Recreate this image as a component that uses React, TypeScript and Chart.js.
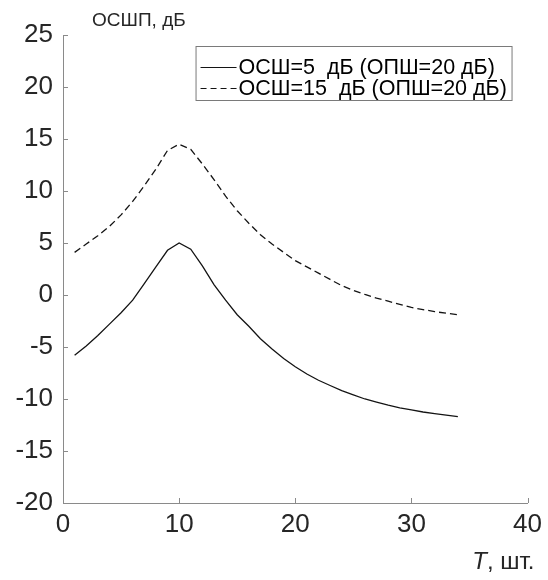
import React, { useEffect, useRef } from "react";
import { Chart, registerables } from "chart.js";

Chart.register(...registerables);

// ---- data ----
const T_VALUES = [1, 2, 3, 4, 5, 6, 7, 8, 9, 10, 11, 12, 13, 14, 15, 16, 17, 18, 19, 20, 21, 22, 23, 24, 25, 26, 27, 28, 29, 30, 31, 32, 33, 34];
const SNR5_VALUES = [-5.8, -4.9, -3.9, -2.8, -1.7, -0.5, 1.1, 2.7, 4.3, 5.0, 4.4, 2.8, 1.0, -0.5, -1.9, -3.0, -4.2, -5.2, -6.1, -6.9, -7.6, -8.2, -8.7, -9.2, -9.6, -10.0, -10.3, -10.6, -10.85, -11.05, -11.25, -11.4, -11.55, -11.7];
const SNR15_VALUES = [4.1, 4.9, 5.7, 6.6, 7.7, 9.0, 10.5, 12.1, 13.9, 14.5, 14.0, 12.6, 11.1, 9.5, 8.1, 6.9, 5.8, 4.9, 4.1, 3.3, 2.7, 2.1, 1.5, 0.9, 0.45, 0.05, -0.3, -0.6, -0.9, -1.2, -1.4, -1.6, -1.75, -1.9];
const SERIES_LABELS = ["ОСШ=5  дБ (ОПШ=20 дБ)", "ОСШ=15  дБ (ОПШ=20 дБ)"];
const X_MIN = 0;
const X_MAX = 40;
const X_STEP = 10;
const Y_MIN = -20;
const Y_MAX = 25;
const Y_STEP = 5;
const Y_TITLE = "ОСШП, дБ";
const X_TITLE_ITALIC = "T";
const X_TITLE_REST = ", шт.";

const FONT = "'Liberation Sans', Arial, Helvetica, sans-serif";
const TEXT_COLOR = "#262626";
const AXIS_COLOR = "#8a8a8a";
const LINE_COLOR = "#141414";

const innerTicksPlugin = {
  id: "innerTicks",
  afterDraw(chart: any) {
    const { ctx, chartArea, scales } = chart;
    ctx.save();
    ctx.strokeStyle = AXIS_COLOR;
    ctx.lineWidth = 1;
    scales.x.ticks.forEach((t: any) => {
      const px = Math.round(scales.x.getPixelForValue(t.value)) + 0.5;
      ctx.beginPath();
      ctx.moveTo(px, chartArea.bottom);
      ctx.lineTo(px, chartArea.bottom - 5);
      ctx.stroke();
    });
    scales.y.ticks.forEach((t: any) => {
      const py = Math.round(scales.y.getPixelForValue(t.value)) + 0.5;
      ctx.beginPath();
      ctx.moveTo(chartArea.left, py);
      ctx.lineTo(chartArea.left + 5, py);
      ctx.stroke();
    });
    ctx.restore();
  },
};

const titlesPlugin = {
  id: "titles",
  afterDraw(chart: any) {
    const { ctx, chartArea } = chart;
    ctx.save();
    ctx.fillStyle = TEXT_COLOR;
    ctx.textBaseline = "alphabetic";
    ctx.textAlign = "left";
    ctx.font = `19px ${FONT}`;
    ctx.fillText(Y_TITLE, chartArea.left + 29, 26);

    ctx.font = `24px ${FONT}`;
    const restW = ctx.measureText(X_TITLE_REST).width;
    ctx.font = `italic 24px ${FONT}`;
    const tW = ctx.measureText(X_TITLE_ITALIC).width;
    const right = chartArea.right + 7;
    const base = 569;
    ctx.fillText(X_TITLE_ITALIC, right - restW - tW, base);
    ctx.font = `24px ${FONT}`;
    ctx.fillText(X_TITLE_REST, right - restW, base);
    ctx.restore();
  },
};

const legendPlugin = {
  id: "boxLegend",
  afterDraw(chart: any) {
    const { ctx, chartArea } = chart;
    const right = chartArea.right - 16;
    const left = right - 316;
    const top = 46;
    const bottom = 100;
    ctx.save();
    ctx.fillStyle = "#ffffff";
    ctx.fillRect(left, top, right - left, bottom - top);
    ctx.strokeStyle = "#7a7a7a";
    ctx.lineWidth = 1;
    ctx.strokeRect(left + 0.5, top + 0.5, right - left, bottom - top);
    const rows = [67, 88];
    chart.data.datasets.forEach((ds: any, i: number) => {
      const y = rows[i];
      ctx.strokeStyle = LINE_COLOR;
      ctx.lineWidth = 1.2;
      ctx.setLineDash(ds.borderDash ? [6, 4] : []);
      ctx.beginPath();
      ctx.moveTo(left + 5, y + 0.5);
      ctx.lineTo(left + 41, y + 0.5);
      ctx.stroke();
      ctx.setLineDash([]);
      ctx.fillStyle = "#000000";
      ctx.font = `21.5px ${FONT}`;
      ctx.textAlign = "left";
      ctx.textBaseline = "middle";
      ctx.fillText(ds.label, left + 43, y + 1);
    });
    ctx.restore();
  },
};

export default function App() {
  const ref = useRef<HTMLCanvasElement | null>(null);

  useEffect(() => {
    if (!ref.current) return;
    const toPoints = (ys: number[]) => T_VALUES.map((x, i) => ({ x, y: ys[i] }));
    const chart = new Chart(ref.current, {
      type: "line",
      data: {
        datasets: [
          {
            label: SERIES_LABELS[0],
            data: toPoints(SNR5_VALUES),
            borderColor: LINE_COLOR,
            borderWidth: 1.3,
            pointRadius: 0,
            tension: 0,
            fill: false,
          },
          {
            label: SERIES_LABELS[1],
            data: toPoints(SNR15_VALUES),
            borderColor: LINE_COLOR,
            borderWidth: 1.3,
            borderDash: [7, 4],
            pointRadius: 0,
            tension: 0,
            fill: false,
          },
        ],
      },
      options: {
        responsive: false,
        animation: false,
        layout: { padding: { top: 35, right: 18, left: 0, bottom: 0 } },
        plugins: {
          legend: { display: false },
          tooltip: { enabled: false },
          title: { display: false },
        },
        scales: {
          x: {
            type: "linear",
            min: X_MIN,
            max: X_MAX,
            afterFit: (s: any) => {
              s.height = 77;
            },
            ticks: {
              stepSize: X_STEP,
              color: TEXT_COLOR,
              font: { family: FONT, size: 26 },
              padding: 6,
              maxRotation: 0,
            },
            grid: { display: true, drawOnChartArea: false, drawTicks: false },
            border: { display: true, color: AXIS_COLOR, width: 1 },
          },
          y: {
            type: "linear",
            min: Y_MIN,
            max: Y_MAX,
            afterFit: (s: any) => {
              s.width = 63;
            },
            ticks: {
              stepSize: Y_STEP,
              color: TEXT_COLOR,
              font: { family: FONT, size: 26 },
              padding: 10,
            },
            grid: { display: true, drawOnChartArea: false, drawTicks: false },
            border: { display: true, color: AXIS_COLOR, width: 1 },
          },
        },
      },
      plugins: [innerTicksPlugin, titlesPlugin, legendPlugin],
    });
    return () => chart.destroy();
  }, []);

  return (
    <div style={{ position: "fixed", left: 0, top: 0, width: 548, height: 580, background: "#ffffff" }}>
      <canvas ref={ref} width={548} height={580} style={{ display: "block" }} />
    </div>
  );
}
